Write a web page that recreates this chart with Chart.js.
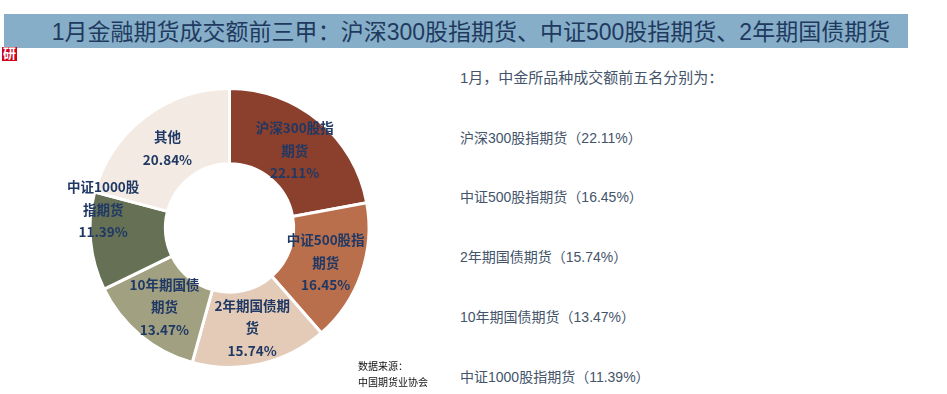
<!DOCTYPE html>
<html lang="zh-CN">
<head>
    <meta charset="UTF-8">
    <title>1月金融期货成交额前三甲</title>
    <style>
        html, body { margin: 0; padding: 0; background: #fff; }
        body { width: 947px; height: 394px; overflow: hidden; position: relative; font-family: "Liberation Sans", "Noto Sans CJK SC", sans-serif; }
        #title { position: absolute; left: 4px; top: 14px; width: 874px; padding-left: 30px; height: 34px; line-height: 33px; background: #86aec8; color: #1f3a5f; font-size: 23px; text-align: center; white-space: nowrap; }
        #title span, .item span, .source span { font-family: "Noto Sans CJK TC", sans-serif; }
        #logo { position: absolute; left: 2px; top: 47px; width: 15px; height: 14px; line-height: 14px; background: #d0021b; color: #fff; font-size: 13px; font-weight: bold; text-align: center; overflow: hidden; }
        #chart-container { position: absolute; left: 0; top: 62px; width: 459px; height: 332px; }
        .item { position: absolute; left: 460px; color: #44546a; font-size: 14px; line-height: 20px; white-space: nowrap; }
        .item.intro { font-size: 15px; top: 67px; }
        .source { position: absolute; left: 358px; color: #111; font-size: 10px; line-height: 12px; white-space: nowrap; }
    </style>
</head>
<body>
    <div id="title">1月金融期货成交额前三甲<span>：</span>沪深300股指期货、中证500股指期货、2年期国债期货</div>
    <div id="logo">研</div>
    <div id="chart-container"><canvas id="chart"></canvas></div>
    <div id="list"></div>
    <div class="source" style="top:360px">数据来源<span>：</span></div>
    <div class="source" style="top:377px">中国期货业协会</div>
    <script src="https://cdn.jsdelivr.net/npm/chart.js@4"></script>
    <script>
        const categories = ['沪深300股指期货', '中证500股指期货', '2年期国债期货', '10年期国债期货', '中证1000股指期货', '其他'];
        const shares = [22.11, 16.45, 15.74, 13.47, 11.39, 20.84];
        const labelLines = [['沪深300股指', '期货'], ['中证500股指', '期货'], ['2年期国债期', '货'], ['10年期国债', '期货'], ['中证1000股', '指期货'], ['其他']];
        const colors = ['#8b3f2d', '#b96f4c', '#e4cbb8', '#a1a182', '#667055', '#f3ebe3'];

        const listIntro = '1月，中金所品种成交额前五名分别为<span>：</span>';
        const listTops = [128, 187, 247, 307, 367];

        const list = document.getElementById('list');
        const intro = document.createElement('div');
        intro.className = 'item intro';
        intro.innerHTML = listIntro;
        list.appendChild(intro);
        listTops.forEach((top, i) => {
            const div = document.createElement('div');
            div.className = 'item';
            div.style.top = top + 'px';
            div.textContent = `${categories[i]}（${shares[i].toFixed(2)}%）`;
            list.appendChild(div);
        });

        // the 中证1000 label was dragged off its segment in the original
        const labelNudge = { 4: { x: -25, y: -29 } };

        // labels sit at the middle of each ring segment and may run over its edge
        const ringLabels = {
            id: 'ringLabels',
            afterDatasetsDraw(chart) {
                const ctx = chart.ctx;
                ctx.save();
                ctx.fillStyle = '#1f3864';
                ctx.font = 'bold 13.5px "Noto Sans CJK SC", sans-serif';
                ctx.textAlign = 'center';
                ctx.textBaseline = 'middle';
                chart.getDatasetMeta(0).data.forEach((arc, i) => {
                    const pos = arc.tooltipPosition();
                    const nudge = labelNudge[i] || { x: 0, y: 0 };
                    const lines = labelLines[i].concat(shares[i].toFixed(2) + '%');
                    const top = pos.y + nudge.y + 1 - (lines.length - 1) * 11.25;
                    lines.forEach((line, j) => ctx.fillText(line, pos.x + nudge.x, top + j * 22.5));
                });
                ctx.restore();
            }
        };

        new Chart(document.getElementById('chart').getContext('2d'), {
            type: 'doughnut',
            data: {
                labels: categories,
                datasets: [{
                    data: shares,
                    backgroundColor: colors,
                    borderColor: '#fff',
                    borderWidth: 3,
                    borderAlign: 'center'
                }]
            },
            options: {
                responsive: true,
                maintainAspectRatio: false,
                animation: false,
                cutout: '46%',
                layout: { padding: { top: 25, bottom: 25 } },
                plugins: { legend: { display: false }, tooltip: { enabled: false } }
            },
            plugins: [ringLabels]
        });
    </script>
</body>
</html>
